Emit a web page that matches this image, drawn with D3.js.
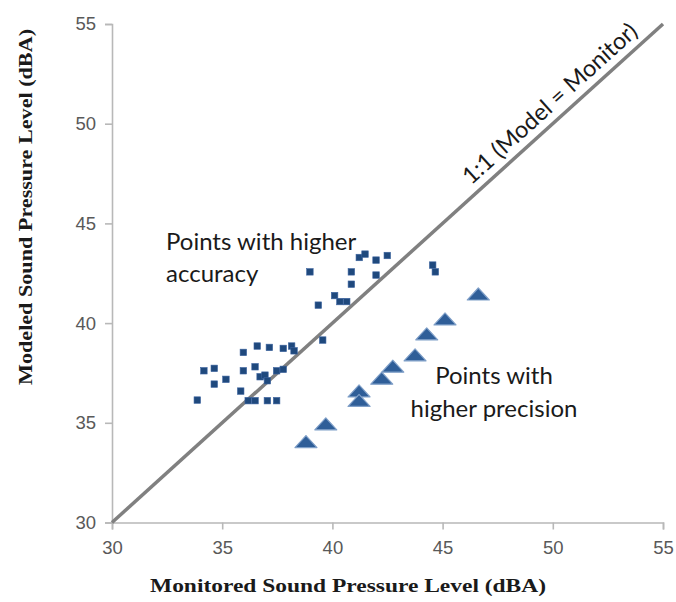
<!DOCTYPE html>
<html>
<head>
<meta charset="utf-8">
<script src="https://cdn.jsdelivr.net/npm/d3@7"></script>
<style>
  html, body { margin: 0; padding: 0; background: #fff; }
  svg { display: block; }
</style>
</head>
<body>
<svg id="chart" width="676" height="602"></svg>
<script>
// Monitored (x) vs modeled (y) sound pressure levels, dBA
const accuracyX = [33.87, 34.17, 34.64, 34.64, 35.17, 35.96, 35.96, 35.84, 36.18, 36.49,
  36.59, 36.49, 36.72, 36.94, 37.05, 37.14, 37.05, 37.47, 37.47, 37.77,
  37.77, 38.15, 38.26, 39.56, 39.36, 38.98, 40.10, 40.34, 40.65, 40.86,
  40.86, 41.22, 41.48, 41.98, 41.98, 42.49, 44.55, 44.67];
const accuracyY = [36.14, 37.61, 37.73, 36.94, 37.18, 38.53, 37.61, 36.59, 36.11, 36.11,
  38.85, 37.81, 37.31, 37.39, 37.11, 38.78, 36.11, 36.11, 37.61, 37.68,
  38.73, 38.85, 38.61, 39.15, 40.90, 42.57, 41.38, 41.08, 41.08, 42.57,
  41.95, 43.29, 43.46, 43.16, 42.41, 43.39, 42.91, 42.57];

const precisionX = [38.80, 39.70, 41.21, 41.21, 42.24, 42.74, 43.75, 44.28, 45.11, 46.62];
const precisionY = [34.00, 34.89, 36.54, 36.06, 37.18, 37.78, 38.35, 39.40, 40.15, 41.40];

const tickValues = [30, 35, 40, 45, 50, 55];
const oneToOne = [30, 55];

const svg = d3.select("#chart");
const x = d3.scaleLinear().domain([30, 55]).range([112, 663]);
const y = d3.scaleLinear().domain([30, 55]).range([522.5, 24]);

const axisColor = "#b8b8b8";
const tickText = "#595959";

// x axis
const gx = svg.append("g").attr("transform", `translate(0,${y(30)})`)
  .call(d3.axisBottom(x).tickValues(tickValues).tickSize(7).tickPadding(8).tickFormat(d3.format("d")));
// y axis
const gy = svg.append("g").attr("transform", `translate(${x(30)},0)`)
  .call(d3.axisLeft(y).tickValues(tickValues).tickSize(7).tickPadding(8).tickFormat(d3.format("d")));

[gx, gy].forEach(g => {
  g.select(".domain").attr("stroke", axisColor).attr("stroke-width", 1.6);
  g.selectAll(".tick line").attr("stroke", axisColor).attr("stroke-width", 1.6);
  g.selectAll(".tick text").attr("fill", tickText)
    .style("font-family", "'Liberation Sans', Arial, sans-serif").style("font-size", "18.5px");
});
gx.selectAll(".tick text").attr("dy", "0.9em");
gy.selectAll(".tick text").attr("dx", "-0.05em");

// 1:1 reference line
svg.append("line")
  .attr("x1", x(oneToOne[0])).attr("y1", y(oneToOne[0]))
  .attr("x2", x(oneToOne[1])).attr("y2", y(oneToOne[1]))
  .attr("stroke", "#808080").attr("stroke-width", 3.5);

const angle = Math.atan2(y(oneToOne[1]) - y(oneToOne[0]), x(oneToOne[1]) - x(oneToOne[0])) * 180 / Math.PI;
svg.append("text")
  .attr("transform", `translate(${x(46.3)},${y(46.3) - 12}) rotate(${angle})`)
  .attr("fill", "#1a1a1a")
  .style("font-family", "Lato, 'Open Sans', sans-serif").style("font-size", "23.5px")
  .text("1:1 (Model = Monitor)");

// accuracy points (squares)
const sq = 6.5;
svg.append("g").selectAll("rect")
  .data(accuracyX.map((v, i) => [v, accuracyY[i]]))
  .join("rect")
  .attr("x", d => x(d[0]) - sq / 2).attr("y", d => y(d[1]) - sq / 2)
  .attr("width", sq).attr("height", sq)
  .attr("fill", "#1f497d").attr("stroke", "#3d64a0").attr("stroke-width", 0.6);

// precision points (flattened triangles)
const tw = 22, th = 12;
const triPath = `M0,${-th * 0.6}L${tw / 2},${th * 0.4}L${-tw / 2},${th * 0.4}Z`;
svg.append("g").selectAll("path")
  .data(precisionX.map((v, i) => [v, precisionY[i]]))
  .join("path")
  .attr("d", triPath)
  .attr("transform", d => `translate(${x(d[0])},${y(d[1])})`)
  .attr("fill", "#2f5e98").attr("stroke", "#7f9fc8").attr("stroke-width", 1.2)
  .attr("stroke-linejoin", "round");

// annotations
const note = svg.append("g")
  .style("font-family", "Lato, 'Open Sans', sans-serif").style("font-size", "24px").attr("fill", "#1a1a1a");
const notes = [
  { text: "Points with higher", x: 166, y: 250, anchor: "start" },
  { text: "accuracy", x: 166, y: 282, anchor: "start" },
  { text: "Points with", x: 494, y: 384, anchor: "middle" },
  { text: "higher precision", x: 494, y: 417, anchor: "middle" }
];
note.selectAll("text").data(notes).join("text")
  .attr("x", d => d.x).attr("y", d => d.y)
  .attr("text-anchor", d => d.anchor)
  .text(d => d.text);

// axis titles
const titleFont = "'Liberation Serif', 'Times New Roman', serif";
svg.append("text")
  .attr("x", 348).attr("y", 592).attr("text-anchor", "middle")
  .style("font-family", titleFont).style("font-weight", "bold").style("font-size", "18.5px")
  .attr("fill", "#1a1a1a")
  .attr("textLength", 396).attr("lengthAdjust", "spacingAndGlyphs")
  .text("Monitored Sound Pressure Level (dBA)");
svg.append("text")
  .attr("transform", "translate(32,207) rotate(-90)").attr("text-anchor", "middle")
  .style("font-family", titleFont).style("font-weight", "bold").style("font-size", "18.5px")
  .attr("fill", "#1a1a1a")
  .attr("textLength", 356).attr("lengthAdjust", "spacingAndGlyphs")
  .text("Modeled Sound Pressure Level (dBA)");
</script>
</body>
</html>
